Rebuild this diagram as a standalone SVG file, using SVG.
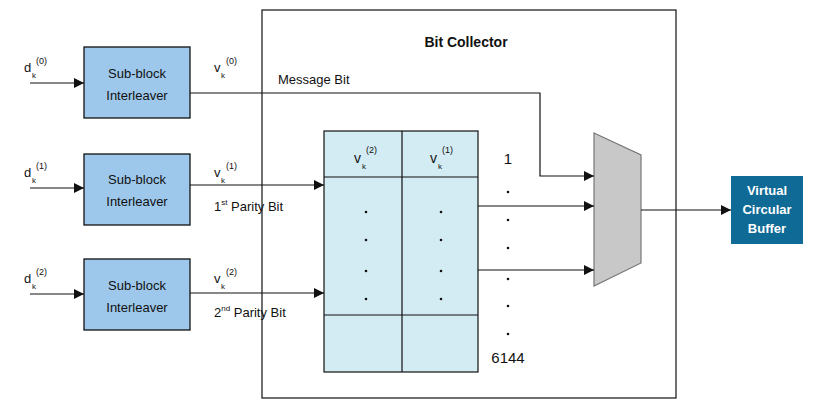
<svg xmlns="http://www.w3.org/2000/svg" width="827" height="417" viewBox="0 0 827 417">
<style>
text{font-family:"Liberation Sans",Arial,sans-serif;fill:#111}
.blk{fill:#9dc8eb;stroke:#111;stroke-width:1.3}
.bt{font-size:13px;text-anchor:middle}
.ln{fill:none;stroke:#111;stroke-width:1.2}
.sup{font-size:9px}
.sub{font-size:8px}
.lb{font-size:13px}
.dot{fill:#111}
</style>
<defs><marker id="ar" viewBox="0 0 10 10" refX="10" refY="5" markerWidth="10" markerHeight="10" markerUnits="userSpaceOnUse" orient="auto"><path d="M0,0L10,5L0,10z" fill="#111"/></marker></defs>
<g id="bitcollector"><rect x="262" y="10" width="414" height="388" fill="#fff" stroke="#111" stroke-width="1.2"/>
<text x="466" y="47" font-size="14" font-weight="bold" text-anchor="middle">Bit Collector</text></g>
<g id="sbi0"><rect class="blk" x="84" y="47" width="106" height="71"/><text class="bt" x="137" y="78">Sub-block</text><text class="bt" x="137" y="100">Interleaver</text></g>
<g id="sbi1"><rect class="blk" x="84" y="154" width="106" height="71"/><text class="bt" x="137" y="184">Sub-block</text><text class="bt" x="137" y="206">Interleaver</text></g>
<g id="sbi2"><rect class="blk" x="84" y="259" width="106" height="71"/><text class="bt" x="137" y="290">Sub-block</text><text class="bt" x="137" y="312">Interleaver</text></g>
<g id="table">
<rect x="324" y="131" width="154" height="241" fill="#d3ebf3" stroke="#111" stroke-width="1.2"/>
<path class="ln" d="M402,131V372M324,177H478M324,315H478"/>
<text x="354" y="163" font-size="14">v</text><text class="sub" x="362" y="169">k</text><text class="sup" x="366" y="153">(2)</text>
<text x="430" y="163" font-size="14">v</text><text class="sub" x="438" y="169">k</text><text class="sup" x="442" y="153">(1)</text>
<g class="dot"><circle cx="366" cy="212" r="1.3"/><circle cx="366" cy="240" r="1.3"/><circle cx="366" cy="271" r="1.3"/><circle cx="366" cy="299" r="1.3"/>
<circle cx="441" cy="212" r="1.3"/><circle cx="441" cy="240" r="1.3"/><circle cx="441" cy="271" r="1.3"/><circle cx="441" cy="299" r="1.3"/></g>
</g>
<g id="index"><text x="508" y="164" font-size="15" text-anchor="middle">1</text>
<g class="dot"><circle cx="508" cy="192" r="1.3"/><circle cx="508" cy="220" r="1.3"/><circle cx="508" cy="248" r="1.3"/><circle cx="508" cy="279" r="1.3"/><circle cx="508" cy="306" r="1.3"/><circle cx="508" cy="334" r="1.3"/></g>
<text x="508" y="363" font-size="15" text-anchor="middle">6144</text></g>
<g id="mux"><path d="M594,133L641,155V263L594,286Z" fill="#c8c8c8" stroke="#777" stroke-width="1.2"/></g>
<g id="vcb"><rect x="731" y="176" width="72" height="68" fill="#0f6a96"/><text x="767" y="195" font-size="13" font-weight="bold" fill="#fff" style="fill:#fff" text-anchor="middle">Virtual</text><text x="767" y="214" font-size="13" font-weight="bold" style="fill:#fff" text-anchor="middle">Circular</text><text x="767" y="233" font-size="13" font-weight="bold" style="fill:#fff" text-anchor="middle">Buffer</text></g>
<g id="labels">
<text class="lb" x="24" y="72">d</text><text class="sub" x="32" y="78">k</text><text class="sup" x="36" y="64">(0)</text>
<text class="lb" x="24" y="177">d</text><text class="sub" x="32" y="183">k</text><text class="sup" x="36" y="169">(1)</text>
<text class="lb" x="24" y="283">d</text><text class="sub" x="32" y="289">k</text><text class="sup" x="36" y="275">(2)</text>
<text class="lb" x="214" y="72">v</text><text class="sub" x="221" y="78">k</text><text class="sup" x="226" y="64">(0)</text>
<text class="lb" x="214" y="177">v</text><text class="sub" x="221" y="183">k</text><text class="sup" x="226" y="169">(1)</text>
<text class="lb" x="214" y="283">v</text><text class="sub" x="221" y="289">k</text><text class="sup" x="226" y="275">(2)</text>
<text class="lb" x="278" y="84">Message Bit</text>
<text class="lb" x="214" y="211">1<tspan font-size="8" dy="-6">st</tspan><tspan dy="6"> Parity Bit</tspan></text>
<text class="lb" x="214" y="317">2<tspan font-size="8" dy="-6">nd</tspan><tspan dy="6"> Parity Bit</tspan></text>
</g>
<g id="connectors" class="ln">
<path class="ln" d="M30,83H84" marker-end="url(#ar)"/>
<path class="ln" d="M30,188H84" marker-end="url(#ar)"/>
<path class="ln" d="M30,294H84" marker-end="url(#ar)"/>
<path class="ln" d="M190,93H540V176H594" marker-end="url(#ar)"/>
<path class="ln" d="M190,185H324" marker-end="url(#ar)"/>
<path class="ln" d="M190,293H324" marker-end="url(#ar)"/>
<path class="ln" d="M478,206H594" marker-end="url(#ar)"/>
<path class="ln" d="M478,270H594" marker-end="url(#ar)"/>
<path class="ln" d="M641,210H731" marker-end="url(#ar)"/>
</g>
</svg>
